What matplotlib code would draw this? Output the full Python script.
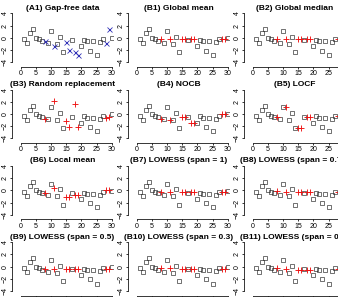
import matplotlib
matplotlib.use('Agg')
import matplotlib.pyplot as plt
import numpy as np

plt.rcParams['font.family'] = ['Liberation Sans', 'DejaVu Sans']

# time index and the gap-free series
t = np.arange(1, 31)
series = [-0.28, -0.94, 0.72, 1.39, 0.0, -0.28, -0.5, -0.5, -0.83, 1.1,
          -1.4, -1.0, 0.17, -2.33, -0.78, -2.0, -0.44, -2.33, -2.78, -1.44,
          -0.39, -0.6, -2.1, -0.6, -2.78, -0.78, -0.28, -0.83, 1.44, -0.06]
missing = [8, 11, 15, 16, 18, 19, 28, 29]

# imputed values at the missing positions, one list per method
titles = ['(A1) Gap-free data', '(B1) Global mean', '(B2) Global median',
          '(B3) Random replacement', '(B4) NOCB', '(B5) LOCF',
          '(B6) Local mean', '(B7) LOWESS (span = 1)', '(B8) LOWESS (span = 0.75)',
          '(B9) LOWESS (span = 0.5)', '(B10) LOWESS (span = 0.3)', '(B11) LOWESS (span = 0.1)']
global_mean = [-0.15, -0.15, -0.15, -0.15, -0.15, -0.15, -0.15, -0.15]
global_median = [-0.25, -0.25, -0.25, -0.25, -0.25, -0.25, -0.25, -0.25]
random_repl = [-0.8, 2.2, -1.1, -2.2, 1.7, -2.05, -0.7, -0.45]
nocb = [-0.83, -1.0, -0.44, -0.44, -1.44, -1.44, -0.06, -0.06]
locf = [-0.5, 1.1, -2.33, -2.33, -0.44, -0.44, -0.28, -0.28]
local_mean = [-0.5, 0.3, -1.1, -1.1, -0.75, -0.75, 0.05, 0.05]
lowess_1 = [-0.28, -0.28, -0.33, -0.33, -0.33, -0.33, -0.33, -0.33]
lowess_075 = [-0.1, -0.3, -0.3, -0.3, -0.3, -0.3, -0.3, -0.3]
lowess_05 = [-0.45, -0.4, -0.45, -0.45, -0.45, -0.45, -0.45, -0.45]
lowess_03 = [-0.3, -0.3, -0.4, -0.4, -0.4, -0.4, -0.4, -0.4]
lowess_01 = [-0.3, -0.4, -0.5, -0.5, -0.5, -0.5, -0.45, -0.45]
imputed = [None, global_mean, global_median, random_repl, nocb, locf,
           local_mean, lowess_1, lowess_075, lowess_05, lowess_03, lowess_01]

W, H = 338, 297
fig = plt.figure(figsize=(W / 100, H / 100), dpi=100)

miss_idx = [m - 1 for m in missing]
obs_t = [t[i] for i in range(30) if i + 1 not in missing]
obs_v = [series[i] for i in range(30) if i + 1 not in missing]

for k in range(12):
    r, c = divmod(k, 3)
    cx = 116 * c
    x0 = 20.7 + cx
    L, R = 12 + cx, 113 + cx
    y0 = 37.7 + 76.3 * r
    B, T = y0 + 29, y0 - 28
    ax = fig.add_axes([L / W, 1 - B / H, (R - L) / W, (B - T) / H])
    ax.set_xlim((L - x0) / 3.033, (R - x0) / 3.033)
    ax.set_ylim(-29 / 6.1, 28 / 6.1)
    ax.patch.set_visible(False)
    for s in ['top', 'right']:
        ax.spines[s].set_visible(False)
    ax.spines['left'].set_bounds(-4, 4)
    ax.spines['bottom'].set_bounds(0, 30)
    for s in ['left', 'bottom']:
        ax.spines[s].set_linewidth(0.55)
    ax.set_xticks(range(0, 31, 5))
    ax.set_yticks(range(-4, 5, 2))
    ax.tick_params(length=1.6, width=0.55, labelsize=5, pad=0.8)
    for lab in ax.get_yticklabels():
        lab.set_rotation(90)
        lab.set_va('center')

    ax.plot(obs_t, obs_v, 's', mfc='none', mec='#222222', ms=3.3, mew=0.45)
    if imputed[k] is None:
        ax.plot([t[i] for i in miss_idx], [series[i] for i in miss_idx], 'x',
                color='#3030b8', ms=3.6, mew=0.6)
    else:
        ax.plot(missing, imputed[k], '+', color='#ee1111', ms=4.6, mew=0.65)

    fig.text((L + R) / 2 / W, 1 - (y0 - 29.5) / H, titles[k], ha='center',
             va='center', fontsize=6.0, fontweight='bold')

fig.savefig('out.png', dpi=100)
